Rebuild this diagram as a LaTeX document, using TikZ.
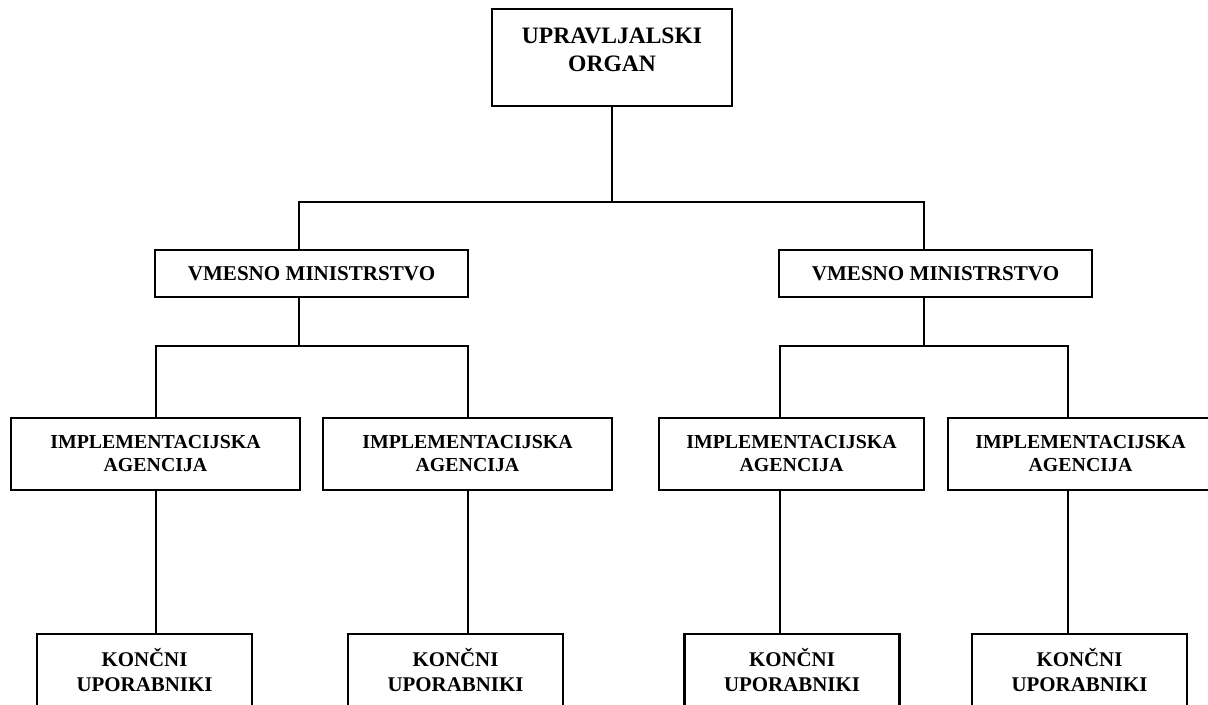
\documentclass[tikz,border=0pt]{standalone}
\usepackage{fontspec}
\setmainfont{Liberation Serif}
\usetikzlibrary{positioning}

\begin{document}
\begin{tikzpicture}[x=0.02cm, y=-0.02cm, line width=1.3pt,
  unit/.style={draw, fill=white, inner sep=0pt, align=center},
  organ/.style={unit, minimum width=4.8cm, minimum height=1.94cm},
  organ title/.style={inner sep=0pt, align=center, font=\bfseries\fontsize{13.4}{15.9}\selectfont},
  ministry/.style={unit, minimum width=6.26cm, minimum height=0.94cm, font=\bfseries\fontsize{12}{14}\selectfont},
  agency/.style={unit, minimum height=1.44cm, font=\bfseries\fontsize{11.3}{13.1}\selectfont},
  users/.style={unit, anchor=north, minimum width=4.3cm, minimum height=1.44cm, font=\bfseries\fontsize{11.9}{14.2}\selectfont}]
  \useasboundingbox (0,0) rectangle (1208,705);
  \clip (0,0) rectangle (1208,705);

  % Top of the tree, then the two ministries, the four agencies and the end users.
  \node[organ] (top) at (612,57.5) {};
  \node[organ title, below=0.38cm of top.north] (toptitle) {UPRAVLJALSKI\\ORGAN};

  \node[ministry] (vmL) at (311.5,273.5) {VMESNO MINISTRSTVO};
  \node[ministry] (vmR) at (935.5,273.5) {VMESNO MINISTRSTVO};

  \node[agency, minimum width=5.78cm] (ia1) at (155.5,454) {IMPLEMENTACIJSKA\\AGENCIJA};
  \node[agency, minimum width=5.78cm] (ia2) at (467.5,454) {IMPLEMENTACIJSKA\\AGENCIJA};
  \node[agency, minimum width=5.3cm] (ia3) at (791.5,454) {IMPLEMENTACIJSKA\\AGENCIJA};
  \node[agency, minimum width=5.3cm] (ia4) at (1080.5,454) {IMPLEMENTACIJSKA\\AGENCIJA};

  \node[users] (kb1) at (144.5,633) {KONČNI\\UPORABNIKI};
  \node[users] (kb2) at (455.5,633) {KONČNI\\UPORABNIKI};
  \node[users] (kb3) at (792,633) {KONČNI\\UPORABNIKI};
  \node[users] (kb4) at (1079.5,633) {KONČNI\\UPORABNIKI};

  % Where the lines drop down from a fork.
  \coordinate (dropL) at (299,202);
  \coordinate (dropR) at (924,202);
  \coordinate (dropA) at (156,346);
  \coordinate (dropB) at (468,346);
  \coordinate (dropC) at (780,346);
  \coordinate (dropD) at (1068,346);

  \draw (top) -- (top |- dropL);
  \draw (dropL |- vmL.north) -- (dropL) -- (dropR) -- (dropR |- vmR.north);
  \draw (dropL |- vmL.south) -- (dropL |- dropA);
  \draw (dropR |- vmR.south) -- (dropR |- dropC);
  \draw (dropA |- ia1.north) -- (dropA) -- (dropB) -- (dropB |- ia2.north);
  \draw (dropC |- ia3.north) -- (dropC) -- (dropD) -- (dropD |- ia4.north);
  \foreach \d/\a/\k in {dropA/ia1/kb1, dropB/ia2/kb2, dropC/ia3/kb3, dropD/ia4/kb4}
    \draw (\d |- \a.south) -- (\d |- \k.north);
\end{tikzpicture}
\end{document}
